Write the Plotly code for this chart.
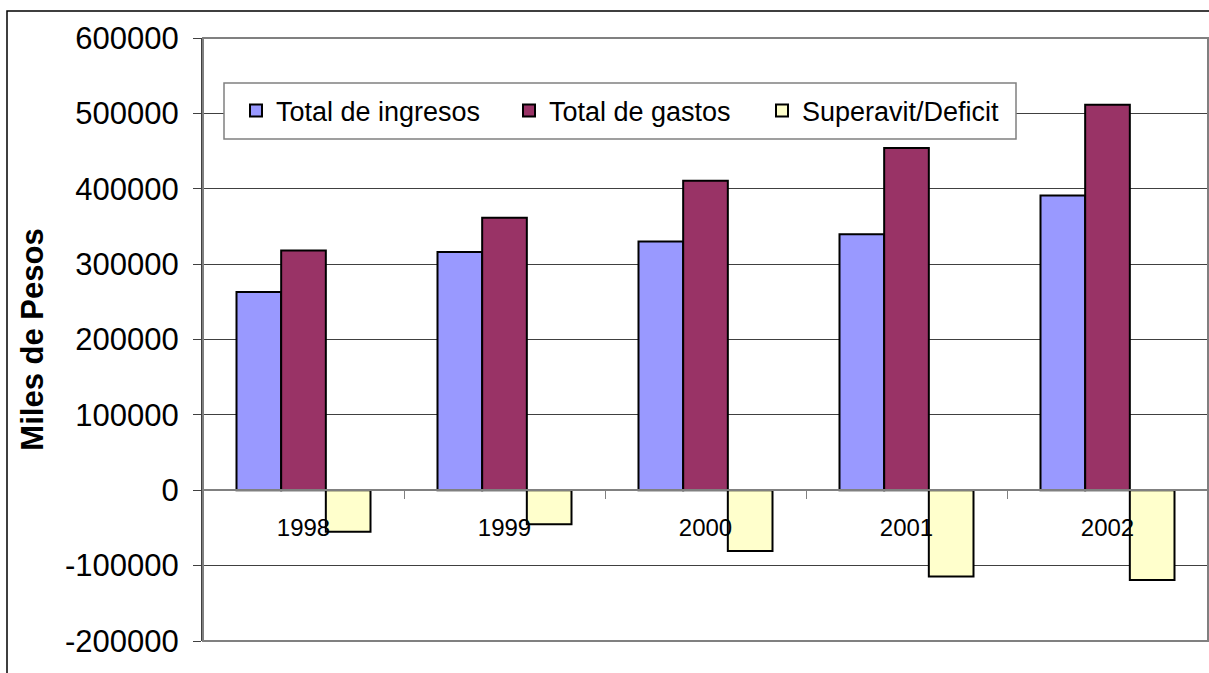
import plotly.graph_objects as go

years = ["1998", "1999", "2000", "2001", "2002"]
ingresos = [263000, 316000, 330000, 339500, 391000]
gastos = [318000, 361500, 410500, 454000, 511500]
superavit = [-55000, -45000, -80500, -114500, -119000]
series_names = ["Total de ingresos", "Total de gastos", "Superavit/Deficit"]
y_ticks = [-200000, -100000, 0, 100000, 200000, 300000, 400000, 500000, 600000]
y_tick_labels = ["-200000", "-100000", "0", "100000", "200000", "300000", "400000", "500000", "600000"]

W, H = 1209, 673
L, R, T, B = 203, 1, 38, 32
pw, ph = W - L - R, H - T - B


def px(x):
    return (x - L) / pw


def py(y):
    return (H - B - y) / ph


FONT = "Liberation Sans, Arial, sans-serif"
colors = ["#9999FF", "#993366", "#FFFFCC"]
legend_ids = ["legend", "legend2", "legend3"]

fig = go.Figure()
for name, vals, col, lg in zip(series_names, [ingresos, gastos, superavit], colors, legend_ids):
    fig.add_trace(go.Bar(
        x=years, y=vals, name=name, legend=lg, showlegend=True,
        marker=dict(color=col, line=dict(color="black", width=2)),
    ))

leg_common = dict(orientation="h", yanchor="middle", xanchor="left",
                  font=dict(family=FONT, size=27, color="black"),
                  bgcolor="rgba(0,0,0,0)", borderwidth=0)

fig.update_layout(
    width=W, height=H,
    margin=dict(l=L, r=R, t=T, b=B),
    paper_bgcolor="white", plot_bgcolor="white",
    showlegend=True,
    barmode="group", bargap=1/3, bargroupgap=0,
    font=dict(family=FONT, color="black"),
    legend=dict(x=px(236), y=py(111), **leg_common),
    legend2=dict(x=px(509), y=py(111), **leg_common),
    legend3=dict(x=px(762), y=py(111), **leg_common),
    xaxis=dict(
        type="category", anchor="free", position=0.25,
        showline=True, linecolor="#808080", linewidth=2,
        ticks="outside", ticklen=8, tickcolor="#808080", tickwidth=1,
        tickson="boundaries", showgrid=False,
        tickfont=dict(family=FONT, size=24, color="black"),
        ticklabelstandoff=16,
    ),
    yaxis=dict(
        range=[-200000, 600000], tickvals=y_ticks, ticktext=y_tick_labels,
        showgrid=True, gridcolor="#404040", gridwidth=1,
        zeroline=False,
        showline=True, linecolor="#404040", linewidth=2,
        ticks="outside", ticklen=8, tickcolor="#404040", tickwidth=1,
        tickfont=dict(family=FONT, size=31, color="black"),
        ticklabelstandoff=8,
        title=dict(text="<b>Miles de Pesos</b>", font=dict(family=FONT, size=31, color="black"), standoff=12),
    ),
    shapes=[
        # plot area border
        dict(type="rect", xref="paper", yref="paper", x0=0, x1=1, y0=0, y1=1,
             line=dict(color="#808080", width=2), fillcolor="rgba(0,0,0,0)", layer="above"),
        # legend box
        dict(type="rect", xref="paper", yref="paper", x0=px(224), x1=px(1016), y0=py(139), y1=py(83),
             line=dict(color="#808080", width=1.5), fillcolor="white", layer="above"),
        # outer chart border
        dict(type="rect", xref="paper", yref="paper", x0=px(7), x1=px(1230), y0=py(700), y1=py(11),
             line=dict(color="black", width=1.5), fillcolor="rgba(0,0,0,0)", layer="above"),
    ],
)

fig.write_html(
    "out.html",
    config={"displayModeBar": False},
    post_script="document.body.style.margin='0px';document.body.style.overflow='hidden';",
)
